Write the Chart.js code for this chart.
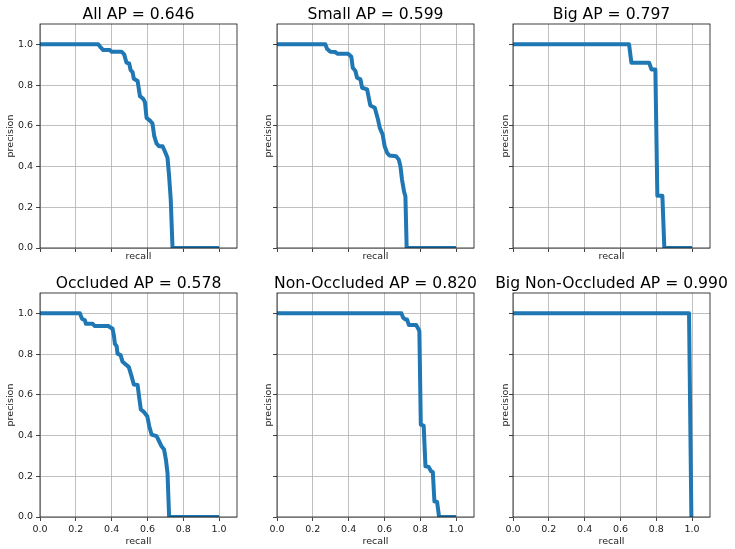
<!DOCTYPE html>
<html lang="en">
<head>
<meta charset="UTF-8" />
<title>Precision / recall curves</title>
<script src="https://cdn.jsdelivr.net/npm/chart.js"></script>
<style>
    html,
    body {
        margin: 0;
        padding: 0;
        background-color: #ffffff;
    }

    body {
        position: relative;
        width: 735px;
        height: 549px;
        overflow: hidden;
    }

    canvas {
        position: absolute;
    }
</style>
</head>
<body>
<script>
    // tick labels shared by every panel
    const tickValues = [0, 0.2, 0.4, 0.6, 0.8, 1.0];

    // curve points
    const allRecall = [0, 0.325, 0.335, 0.353, 0.39, 0.40, 0.455, 0.47, 0.483, 0.498, 0.506, 0.517, 0.524, 0.545, 0.558, 0.576, 0.586, 0.595, 0.617, 0.628, 0.638, 0.651, 0.664, 0.684, 0.697, 0.712, 0.721, 0.73, 0.74, 1.0];
    const allPrecision = [1, 1, 0.989, 0.972, 0.972, 0.964, 0.964, 0.951, 0.91, 0.906, 0.874, 0.864, 0.831, 0.82, 0.746, 0.733, 0.716, 0.639, 0.623, 0.611, 0.549, 0.513, 0.5, 0.5, 0.475, 0.443, 0.352, 0.238, 0, 0];

    const smallRecall = [0, 0.27, 0.279, 0.298, 0.326, 0.337, 0.397, 0.415, 0.423, 0.438, 0.447, 0.466, 0.475, 0.503, 0.521, 0.546, 0.564, 0.574, 0.59, 0.601, 0.615, 0.628, 0.665, 0.68, 0.689, 0.698, 0.709, 0.717, 0.724, 1.0];
    const smallPrecision = [1, 1, 0.979, 0.964, 0.962, 0.954, 0.954, 0.939, 0.885, 0.869, 0.836, 0.828, 0.787, 0.779, 0.7, 0.689, 0.631, 0.59, 0.557, 0.5, 0.467, 0.454, 0.451, 0.434, 0.402, 0.336, 0.279, 0.254, 0, 0];

    const bigRecall = [0, 0.648, 0.661, 0.76, 0.773, 0.795, 0.806, 0.834, 0.845, 1.0];
    const bigPrecision = [1, 1, 0.91, 0.91, 0.877, 0.877, 0.257, 0.257, 0, 0];

    const occRecall = [0, 0.223, 0.234, 0.251, 0.256, 0.294, 0.305, 0.381, 0.394, 0.405, 0.413, 0.418, 0.428, 0.433, 0.45, 0.461, 0.483, 0.496, 0.511, 0.524, 0.545, 0.554, 0.563, 0.58, 0.599, 0.61, 0.623, 0.651, 0.665, 0.678, 0.693, 0.703, 0.712, 0.721, 1.0];
    const occPrecision = [1, 1, 0.974, 0.966, 0.949, 0.949, 0.938, 0.938, 0.93, 0.925, 0.889, 0.851, 0.839, 0.802, 0.795, 0.762, 0.746, 0.736, 0.692, 0.651, 0.648, 0.585, 0.528, 0.516, 0.495, 0.446, 0.405, 0.397, 0.372, 0.348, 0.331, 0.282, 0.216, 0, 0];

    const nonOccRecall = [0, 0.695, 0.704, 0.717, 0.726, 0.736, 0.777, 0.788, 0.795, 0.803, 0.819, 0.829, 0.847, 0.86, 0.87, 0.879, 0.894, 0.905, 1.0];
    const nonOccPrecision = [1, 1, 0.979, 0.97, 0.97, 0.943, 0.943, 0.926, 0.913, 0.454, 0.449, 0.249, 0.246, 0.225, 0.221, 0.077, 0.074, 0, 0];

    const bigNonOccRecall = [0, 0.983, 0.996];
    const bigNonOccPrecision = [1, 1, 0];

    const panels = [
        { title: "All AP = 0.646", recall: allRecall, precision: allPrecision },
        { title: "Small AP = 0.599", recall: smallRecall, precision: smallPrecision },
        { title: "Big AP = 0.797", recall: bigRecall, precision: bigPrecision },
        { title: "Occluded AP = 0.578", recall: occRecall, precision: occPrecision },
        { title: "Non-Occluded AP = 0.820", recall: nonOccRecall, precision: nonOccPrecision },
        { title: "Big Non-Occluded AP = 0.990", recall: bigNonOccRecall, precision: bigNonOccPrecision },
    ];

    // page layout (pixels)
    const plotW = 197, plotH = 224, titleH = 24;
    const colLeft = [40, 277, 513];
    const colSide = [40, 16, 20];       // space left (and right) of each plot
    const yTitlePad = [4.4, 1.4, 6.4];
    const rowTop = [24, 293];
    const rowBottom = [18, 32];         // space under each plot
    const xTitlePad = [3.6, 1.6];

    const FONT = "'DejaVu Sans', sans-serif";
    const small = { family: FONT, size: 9.5 };

    // draws the four spines round the plot area
    const frame = {
        id: "frame",
        afterDatasetsDraw(chart) {
            const { ctx, chartArea: a } = chart;
            ctx.save();
            ctx.strokeStyle = "#111";
            ctx.lineWidth = 0.8;
            ctx.strokeRect(a.left, a.top, a.right - a.left, a.bottom - a.top);
            ctx.restore();
        },
    };

    panels.forEach((p, i) => {
        const col = i % 3;
        const row = Math.floor(i / 3);
        const side = colSide[col];
        const under = rowBottom[row];

        const canvas = document.createElement("canvas");
        canvas.width = plotW + 2 * side;
        canvas.height = titleH + plotH + under;
        canvas.style.left = (colLeft[col] - side) + "px";
        canvas.style.top = (rowTop[row] - titleH) + "px";
        document.body.appendChild(canvas);

        const points = p.recall.map((r, k) => ({ x: r, y: p.precision[k] }));
        const setTicks = (scale) => {
            scale.ticks = tickValues.map((v) => ({ value: v }));
        };
        const grid = {
            color: "#b0b0b0",
            lineWidth: 0.8,
            tickLength: 4,
            tickColor: "#111",
            tickWidth: 0.8,
        };

        new Chart(canvas.getContext("2d"), {
            type: "scatter",
            data: {
                datasets: [
                    {
                        data: points,
                        showLine: true,
                        borderColor: "#1f77b4",
                        backgroundColor: "#1f77b4",
                        borderWidth: 4,
                        borderJoinStyle: "round",
                        pointRadius: 0,
                        fill: false,
                    },
                ],
            },
            options: {
                responsive: false,
                animation: false,
                devicePixelRatio: 1,
                layout: { padding: 0 },
                plugins: {
                    legend: { display: false },
                    tooltip: { enabled: false },
                    title: {
                        display: true,
                        text: p.title,
                        color: "#000",
                        font: { family: FONT, size: 15.6, weight: "normal" },
                        padding: { top: 5.2, bottom: 0.08 },
                    },
                },
                scales: {
                    x: {
                        type: "linear",
                        min: 0,
                        max: 1.1,
                        afterBuildTicks: setTicks,
                        afterFit: (s) => { s.height = under; },
                        grid: grid,
                        border: { display: false },
                        ticks: {
                            display: row === 1,
                            color: "#222",
                            font: small,
                            padding: 2.4,
                            maxRotation: 0,
                            callback: (v) => Number(v).toFixed(1),
                        },
                        title: {
                            display: true,
                            text: "recall",
                            color: "#222",
                            font: small,
                            padding: { top: 0, bottom: xTitlePad[row] },
                        },
                    },
                    y: {
                        type: "linear",
                        position: "left",
                        min: 0,
                        max: 1.1,
                        afterBuildTicks: setTicks,
                        afterFit: (s) => { s.width = side; },
                        grid: grid,
                        border: { display: false },
                        ticks: {
                            display: col === 0,
                            color: "#222",
                            font: small,
                            padding: 3,
                            callback: (v) => Number(v).toFixed(1),
                        },
                        title: {
                            display: true,
                            text: "precision",
                            color: "#222",
                            font: small,
                            padding: { top: yTitlePad[col], bottom: 0 },
                        },
                    },
                    // empty axis on the right keeps the title centred over the plot
                    yRight: {
                        type: "linear",
                        position: "right",
                        display: true,
                        grid: { display: false },
                        border: { display: false },
                        ticks: { display: false },
                        afterFit: (s) => { s.width = side; },
                    },
                },
            },
            plugins: [frame],
        });
    });
</script>
</body>
</html>
